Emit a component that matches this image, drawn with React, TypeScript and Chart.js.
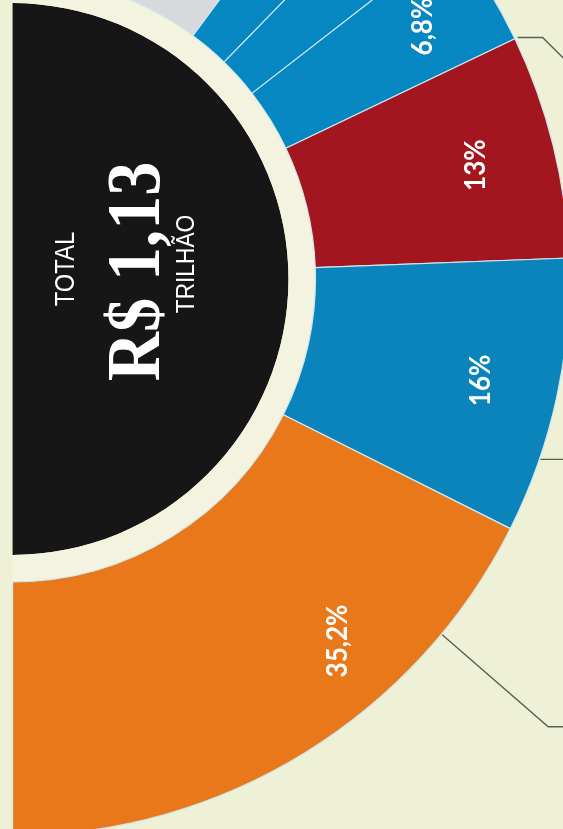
import React, { useEffect, useRef } from 'react';
import { Chart, registerables } from 'chart.js';

Chart.register(...registerables);

// ---- data ----
const segments = ['Outros', 'Segmento A', 'Segmento B', 'Segmento C', 'Segmento D', 'Segmento E', 'Segmento F'];
const shares = [20.3, 4.3, 4.4, 6.8, 13, 16, 35.2];
const shareLabels = ['', '', '', '6,8%', '13%', '16%', '35,2%'];
const segmentColors = ['#d7dadc', '#0687c2', '#0687c2', '#0687c2', '#a3151f', '#0a84bb', '#e9781b'];
const totalCaption = 'TOTAL';
const totalValue = 'R$ 1,13';
const totalUnit = 'TRILHÃO';

// ---- styling / placement (not data) ----
const BG = '#eef1d6';
const GAP = '#f4f3df';
const CORE = '#161616';
const labelAngleFrac = [0.5, 0.5, 0.5, 0.5, 0.5, 0.5, 0.34];
const labelRadialFrac = [0.69, 0.69, 0.69, 0.7, 0.68, 0.69, 0.72];

function drawRotated(
  ctx: CanvasRenderingContext2D,
  text: string,
  x: number,
  y: number,
  font: string,
  color: string,
  scaleX: number,
  baselineShift = 0
) {
  ctx.save();
  ctx.translate(x, y);
  ctx.rotate(-Math.PI / 2);
  ctx.font = font;
  ctx.fillStyle = color;
  ctx.textAlign = 'center';
  ctx.textBaseline = 'alphabetic';
  ctx.scale(scaleX, 1);
  ctx.fillText(text, 0, baselineShift);
  ctx.restore();
}

function fitScale(ctx: CanvasRenderingContext2D, text: string, font: string, target: number) {
  ctx.save();
  ctx.font = font;
  const m = ctx.measureText(text);
  const w = (m.actualBoundingBoxLeft || 0) + (m.actualBoundingBoxRight || m.width);
  ctx.restore();
  return w > 0 ? target / w : 1;
}

const overlayPlugin = {
  id: 'overlay',
  afterDatasetsDraw(chart: any) {
    const ctx: CanvasRenderingContext2D = chart.ctx;
    const arcs = chart.getDatasetMeta(0).data;
    if (!arcs.length) return;
    const first = arcs[0].getProps(['x', 'y', 'innerRadius', 'outerRadius'], true);
    const cx = first.x;
    const cy = first.y;

    // percentage labels
    arcs.forEach((arc: any, i: number) => {
      const text = shareLabels[i];
      if (!text) return;
      const p = arc.getProps(['startAngle', 'endAngle', 'innerRadius', 'outerRadius'], true);
      const a = p.startAngle + (p.endAngle - p.startAngle) * labelAngleFrac[i];
      const r = p.innerRadius + (p.outerRadius - p.innerRadius) * labelRadialFrac[i];
      const x = cx + r * Math.cos(a);
      const y = cy + r * Math.sin(a);
      const size = 29;
      drawRotated(ctx, text, x, y, `700 ${size}px Lato, "Liberation Sans", sans-serif`, '#ffffff', 0.9, size * 0.36);
    });

    // leader lines
    ctx.save();
    ctx.strokeStyle = '#5b5e56';
    ctx.lineWidth = 1.4;
    const polar = (a: number, r: number) => [cx + r * Math.cos(a), cy + r * Math.sin(a)];
    const red = arcs[4].getProps(['startAngle', 'endAngle', 'outerRadius'], true);
    let [x1, y1] = polar(red.startAngle, red.outerRadius + 3);
    ctx.beginPath();
    ctx.moveTo(x1, y1);
    ctx.lineTo(x1 + 25, y1);
    ctx.lineTo(x1 + 75, y1 + 50);
    ctx.stroke();

    const blue = arcs[5].getProps(['startAngle', 'endAngle', 'outerRadius'], true);
    [x1, y1] = polar(blue.startAngle + (blue.endAngle - blue.startAngle) * 0.73, blue.outerRadius + 1);
    ctx.beginPath();
    ctx.moveTo(x1, y1);
    ctx.lineTo(x1 + 80, y1);
    ctx.stroke();

    const orange = arcs[6].getProps(['startAngle', 'endAngle', 'outerRadius'], true);
    [x1, y1] = polar(orange.startAngle + (orange.endAngle - orange.startAngle) * 0.205, orange.outerRadius + 1);
    ctx.beginPath();
    ctx.moveTo(x1, y1);
    ctx.lineTo(x1 + 106, y1 + 92);
    ctx.lineTo(x1 + 170, y1 + 92);
    ctx.stroke();
    ctx.restore();

    // centre texts
    const capFont = '400 28px "Liberation Sans", Arial, sans-serif';
    drawRotated(ctx, totalCaption, cx + 61, cy - 10, capFont, '#ffffff', fitScale(ctx, totalCaption, capFont, 74));
    const valFont = '700 76px "Liberation Serif", "DejaVu Serif", serif';
    drawRotated(ctx, totalValue, cx + 146, cy - 7.5, valFont, '#ffffff', fitScale(ctx, totalValue, valFont, 217));
    const unitFont = '400 25px "Liberation Sans", Arial, sans-serif';
    drawRotated(ctx, totalUnit, cx + 181, cy - 15, unitFont, '#ffffff', fitScale(ctx, totalUnit, unitFont, 98));
  },
};

export default function App() {
  const ref = useRef<HTMLCanvasElement | null>(null);

  useEffect(() => {
    if (!ref.current) return;
    const chart = new Chart(ref.current, {
      type: 'doughnut',
      data: {
        labels: segments,
        datasets: [
          {
            data: shares,
            backgroundColor: segmentColors,
            borderColor: '#cfe7ee',
            borderWidth: 1.2,
            hoverOffset: 0,
            offset: 0,
            weight: 254,
          } as any,
          {
            data: [100],
            backgroundColor: [GAP],
            borderWidth: 0,
            hoverOffset: 0,
            weight: 27,
          } as any,
          {
            data: [100],
            backgroundColor: [CORE],
            borderWidth: 0,
            hoverOffset: 0,
            weight: 276,
          } as any,
        ],
      },
      options: {
        responsive: false,
        animation: false,
        events: [],
        cutout: 0,
        rotation: 0,
        circumference: 180,
        layout: { padding: 0 },
        plugins: {
          legend: { display: false },
          tooltip: { enabled: false },
        },
      },
      plugins: [overlayPlugin],
    });
    return () => chart.destroy();
  }, []);

  return (
    <div
      style={{
        position: 'fixed',
        left: 0,
        top: 0,
        width: 563,
        height: 829,
        overflow: 'hidden',
        background: BG,
      }}
    >
      <canvas
        ref={ref}
        width={558}
        height={1116}
        style={{ position: 'absolute', left: 12, top: -279, width: 558, height: 1116 }}
      />
    </div>
  );
}
